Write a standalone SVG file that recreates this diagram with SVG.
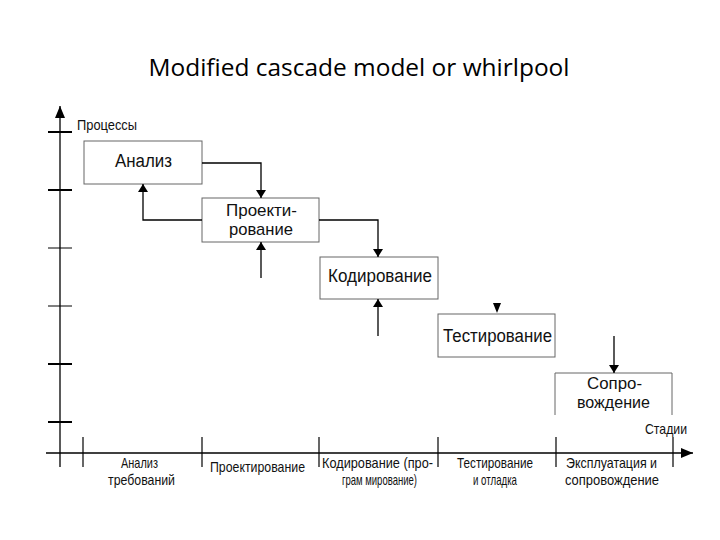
<svg xmlns="http://www.w3.org/2000/svg" width="720" height="540" viewBox="0 0 720 540">
<style>
.box{fill:#fff;stroke:#666;stroke-width:1}
.ln{fill:none;stroke:#000;stroke-width:1.3}
.t{font-family:"Liberation Sans",Arial,sans-serif;fill:#111}
.bt{font-size:18px}
.bt2{font-size:17px}
.st{font-size:15px}
</style>
<defs>
<marker id="ah" markerWidth="8" markerHeight="10" refX="10" refY="5" orient="auto" markerUnits="userSpaceOnUse" viewBox="0 0 10 10" preserveAspectRatio="none">
<path d="M0,0 L10,5 L0,10 Z" fill="#000"/>
</marker>
<marker id="ah2" markerWidth="12" markerHeight="10" refX="12" refY="5" orient="auto" markerUnits="userSpaceOnUse" viewBox="0 0 12 10" preserveAspectRatio="none">
<path d="M0,0 L12,5 L0,10 Z" fill="#000"/>
</marker>
</defs>
<rect width="720" height="540" fill="#fff"/>
<text x="359" y="76" text-anchor="middle" font-family="'Open Sans',Calibri,sans-serif" font-size="24" textLength="421" lengthAdjust="spacingAndGlyphs" fill="#000">Modified cascade model or whirlpool</text>

<g id="axes">
<line class="ln" x1="60" y1="467" x2="60" y2="106" marker-end="url(#ah2)"/>
<line class="ln" x1="46" y1="453" x2="693" y2="453" marker-end="url(#ah2)"/>
<g stroke="#000">
<line x1="48" y1="132" x2="72" y2="132" stroke-width="2"/>
<line x1="48" y1="190" x2="72" y2="190" stroke-width="2"/>
<line x1="48" y1="248" x2="72" y2="248" stroke-width="1"/>
<line x1="48" y1="306" x2="72" y2="306" stroke-width="1"/>
<line x1="48" y1="364" x2="72" y2="364" stroke-width="2"/>
<line x1="48" y1="422" x2="72" y2="422" stroke-width="2"/>
<line x1="83" y1="437" x2="83" y2="467" stroke-width="1.2"/>
<line x1="202" y1="437" x2="202" y2="467" stroke-width="1.2"/>
<line x1="319" y1="437" x2="319" y2="467" stroke-width="1.2"/>
<line x1="438" y1="437" x2="438" y2="467" stroke-width="1.2"/>
<line x1="556" y1="437" x2="556" y2="467" stroke-width="1.2"/>
<line x1="673" y1="437" x2="673" y2="467" stroke-width="1.2"/>
</g>
<text class="t st" x="77" y="130" textLength="60" lengthAdjust="spacingAndGlyphs">Процессы</text>
<text class="t st" x="645" y="434" textLength="42" lengthAdjust="spacingAndGlyphs">Стадии</text>
</g>

<g id="stage-labels" class="t st" text-anchor="middle">
<text x="139.5" y="468" textLength="37" lengthAdjust="spacingAndGlyphs">Анализ</text>
<text x="141.5" y="485" textLength="67" lengthAdjust="spacingAndGlyphs">требований</text>
<text x="257.5" y="472" textLength="95" lengthAdjust="spacingAndGlyphs">Проектирование</text>
<text x="377.5" y="468" textLength="111" lengthAdjust="spacingAndGlyphs">Кодирование (про-</text>
<text x="379.5" y="485" textLength="75" lengthAdjust="spacingAndGlyphs">грам мирование)</text>
<text x="495" y="468" textLength="76" lengthAdjust="spacingAndGlyphs">Тестирование</text>
<text x="495" y="485" textLength="44" lengthAdjust="spacingAndGlyphs">и отладка</text>
<text x="611.5" y="468" textLength="91" lengthAdjust="spacingAndGlyphs">Эксплуатация и</text>
<text x="612" y="485" textLength="94" lengthAdjust="spacingAndGlyphs">сопровождение</text>
</g>

<g id="analysis">
<rect class="box" x="84" y="141" width="118" height="43"/>
<text class="t bt" x="143.5" y="167" text-anchor="middle" textLength="57" lengthAdjust="spacingAndGlyphs">Анализ</text>
</g>
<g id="design">
<rect class="box" x="202" y="198" width="117" height="44"/>
<text class="t bt2" x="261.5" y="216" text-anchor="middle" textLength="71" lengthAdjust="spacingAndGlyphs">Проекти-</text>
<text class="t bt2" x="261" y="235" text-anchor="middle" textLength="64" lengthAdjust="spacingAndGlyphs">рование</text>
</g>
<g id="coding">
<rect class="box" x="320" y="257" width="118" height="42"/>
<text class="t bt" x="380" y="282" text-anchor="middle" textLength="104" lengthAdjust="spacingAndGlyphs">Кодирование</text>
</g>
<g id="testing">
<rect class="box" x="438" y="314" width="117" height="43"/>
<text class="t bt" x="497.5" y="342" text-anchor="middle" textLength="109" lengthAdjust="spacingAndGlyphs">Тестирование</text>
</g>
<g id="support">
<path d="M555,415 V373 H672 V415" fill="#fff" stroke="#666" stroke-width="1"/>
<text class="t bt2" x="614.5" y="389" text-anchor="middle" textLength="55" lengthAdjust="spacingAndGlyphs">Сопро-</text>
<text class="t bt2" x="613.5" y="408" text-anchor="middle" textLength="73" lengthAdjust="spacingAndGlyphs">вождение</text>
</g>

<g id="connectors">
<path class="ln" d="M202,163 H261 V198" marker-end="url(#ah)"/>
<path class="ln" d="M202,220 H143 V184" marker-end="url(#ah)"/>
<path class="ln" d="M319,220 H378 V257" marker-end="url(#ah)"/>
<path class="ln" d="M261,278 V242" marker-end="url(#ah)"/>
<path class="ln" d="M378,336 V299" marker-end="url(#ah)"/>
<path d="M493,303 H501 L497,313 Z" fill="#000"/>
<path class="ln" d="M614,336 V373" marker-end="url(#ah)"/>
</g>
</svg>
